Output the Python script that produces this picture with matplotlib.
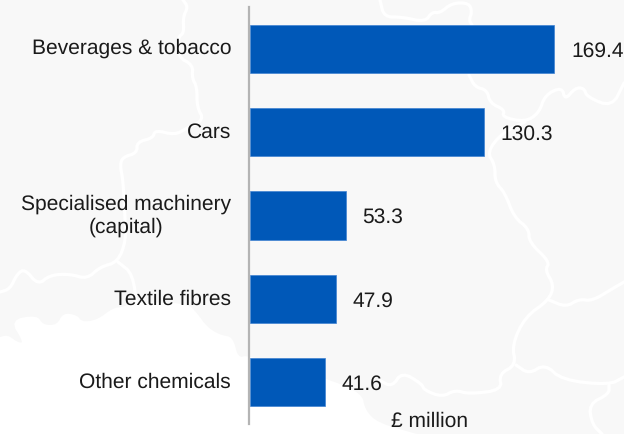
import matplotlib
matplotlib.use("Agg")
import matplotlib.pyplot as plt
from matplotlib.patches import Polygon

plt.rcParams['font.family'] = ['Liberation Sans', 'DejaVu Sans']
plt.rcParams['text.hinting'] = 'no_hinting'
plt.rcParams['text.hinting_factor'] = 1
plt.rcParams['ytick.alignment'] = 'center'

categories = ["Beverages & tobacco", "Cars", "Specialised machinery\n(capital)",
              "Textile fibres", "Other chemicals"]
values = [169.4, 130.3, 53.3, 47.9, 41.6]
unit_label = "£ million"

BAR_BLUE = "#0058B8"
BAR_EDGE = "#3F82D2"
AXIS_GREY = "#B4B4B4"
TEXT = "#1A1A1A"
LAND = "#F8F8F8"
LABEL_SIZE = 15.3
VALUE_SIZE = 14.9

# Backdrop map, in pixel coordinates: sea below the coastline, regional borders on land
coast = [(0, 337), (8, 335), (17, 342), (24, 343), (10, 320), (37, 315), (43, 325), (57, 325),
         (63, 313), (77, 315), (82, 322), (97, 320), (113, 308), (123, 307), (133, 302),
         (187, 303), (197, 313), (207, 327), (220, 335), (233, 337), (238, 358), (248, 355),
         (325, 378), (362, 393), (365, 410), (378, 423), (417, 434)]
borders = [
    [(183, 0), (188, 7), (183, 17), (184, 33), (178, 37), (178, 57), (193, 65), (192, 78),
     (197, 87), (197, 107), (204, 120), (187, 128), (175, 135), (155, 130), (153, 138),
     (137, 142), (137, 153), (123, 157), (120, 165), (123, 180), (125, 217), (126, 240),
     (118, 262), (100, 267), (87, 279), (70, 274), (50, 275), (38, 285), (25, 269),
     (17, 274), (10, 289), (0, 292)],
    [(118, 262), (133, 274), (137, 310)],
    [(380, 0), (384, 17), (402, 17), (425, 22), (432, 12), (440, 13), (452, 3), (469, 3),
     (472, 12), (469, 20), (472, 25)],
    [(469, 75), (475, 87), (487, 90), (490, 103), (505, 110), (502, 117), (525, 122),
     (539, 113), (545, 95), (562, 87), (565, 100), (575, 88), (584, 88), (587, 97),
     (612, 107), (624, 83)],
    [(525, 122), (502, 133), (487, 152), (495, 165), (495, 182), (505, 193), (514, 217),
     (529, 229), (529, 242), (550, 262), (545, 270), (554, 285), (549, 300), (525, 317),
     (512, 345), (516, 365), (499, 374), (502, 390), (469, 394), (455, 390), (442, 397),
     (424, 390), (422, 384), (402, 372), (392, 387), (379, 380)],
    [(516, 365), (529, 374), (545, 364), (562, 380), (609, 385), (624, 377)],
    [(609, 385), (609, 394), (589, 404), (592, 424), (602, 434)],
    [(549, 300), (566, 307), (579, 299), (592, 301), (612, 289), (624, 282)],
]


def rounded(path, passes=2):
    """Corner-cut a polyline so the border traces read as smooth curves."""
    for _ in range(passes):
        cut = [path[0]]
        for (x0, y0), (x1, y1) in zip(path, path[1:]):
            cut.append((0.75 * x0 + 0.25 * x1, 0.75 * y0 + 0.25 * y1))
            cut.append((0.25 * x0 + 0.75 * x1, 0.25 * y0 + 0.75 * y1))
        cut.append(path[-1])
        path = cut
    return path


fig = plt.figure(figsize=(6.24, 4.34), dpi=100, facecolor=LAND)

backdrop = fig.add_axes([0, 0, 1, 1], zorder=0)
backdrop.set_xlim(0, 624)
backdrop.set_ylim(434, 0)
backdrop.axis("off")
backdrop.add_patch(Polygon(rounded(coast) + [(0, 434)], closed=True, facecolor="white", edgecolor="none"))
for path in borders:
    xs, ys = zip(*rounded(path))
    backdrop.plot(xs, ys, color="white", lw=2.3, solid_joinstyle="round", solid_capstyle="round")

ax = fig.add_axes([249.7 / 624, 10 / 434, 374.3 / 624, 417 / 434], zorder=1)
ax.patch.set_visible(False)
for side in ("top", "right", "bottom"):
    ax.spines[side].set_visible(False)
ax.spines["left"].set_color(AXIS_GREY)
ax.spines["left"].set_linewidth(1.6)
ax.spines["left"].set_position(("outward", 0.8))

positions = list(range(len(categories)))
bars = ax.barh(positions, values, height=0.58, color=BAR_BLUE, edgecolor=BAR_EDGE, linewidth=0.5)

ax.set_xlim(0, 374.3 / 1.799)
ax.set_ylim(4.5, -0.5)
ax.set_yticks(positions)
ax.set_yticklabels(categories, multialignment="center", linespacing=1.2)
ax.tick_params(axis="y", length=0, pad=12.6, labelsize=LABEL_SIZE, labelcolor=TEXT)
ax.xaxis.set_visible(False)

for bar, value in zip(bars, values):
    ax.annotate(f"{value:.1f}", (value, bar.get_y() + bar.get_height() / 2),
                xytext=(12, 0), textcoords="offset points", ha="left", va="center_baseline",
                fontsize=VALUE_SIZE, color=TEXT)

fig.text(430 / 624, 1 - 421 / 434, unit_label, ha="center", va="center", fontsize=VALUE_SIZE, color=TEXT)

fig.savefig("out.png", dpi=100, facecolor=fig.get_facecolor())
